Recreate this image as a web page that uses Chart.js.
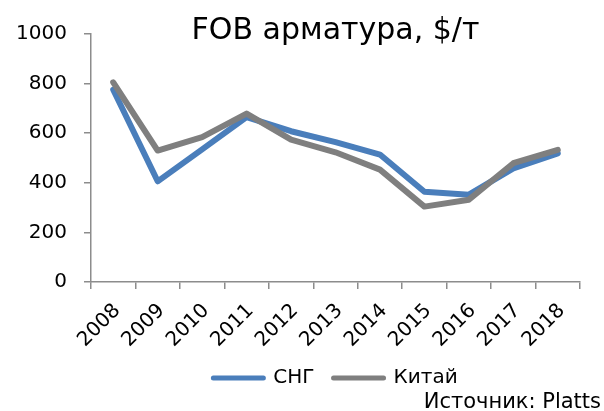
<!DOCTYPE html>
<html>
<head>
<meta charset="utf-8">
<script src="https://cdn.jsdelivr.net/npm/chart.js@4.4.1/dist/chart.umd.min.js"></script>
<style>
html,body{margin:0;padding:0;background:#fff;}
#wrap{position:relative;width:604px;height:411px;}
</style>
</head>
<body>
<div id="wrap"><canvas id="c" width="604" height="411"></canvas></div>
<script>
const years = ["2008","2009","2010","2011","2012","2013","2014","2015","2016","2017","2018"];
const cisValues = [775, 406, 535, 665, 608, 564, 514, 364, 352, 458, 519];
const chinaValues = [805, 530, 584, 679, 574, 523, 453, 304, 332, 479, 533];
const yTicks = [0, 200, 400, 600, 800, 1000];
const seriesNames = ["СНГ", "Китай"];
const seriesColors = ["#4a7ebb", "#7f7f7f"];
const titleText = "FOB арматура, $/т";
const sourceText = "Источник: Platts";

const FONT = "'DejaVu Sans', Verdana, sans-serif";
const axisColor = "#8c8c8c";

new Chart(document.getElementById('c'), {
  type: 'line',
  data: {
    labels: years,
    datasets: [
      { label: seriesNames[0], data: cisValues, borderColor: seriesColors[0], backgroundColor: seriesColors[0],
        borderWidth: 6, pointRadius: 0, tension: 0, borderJoinStyle: 'round', borderCapStyle: 'round', order: 2 },
      { label: seriesNames[1], data: chinaValues, borderColor: seriesColors[1], backgroundColor: seriesColors[1],
        borderWidth: 6, pointRadius: 0, tension: 0, borderJoinStyle: 'round', borderCapStyle: 'round', order: 1 }
    ]
  },
  options: {
    responsive: false,
    animation: false,
    events: [],
    layout: { padding: { left: 0, right: 3, top: 0, bottom: 0 } },
    plugins: {
      tooltip: { enabled: false },
      title: {
        display: true, text: titleText, fullSize: false,
        color: '#000', font: { family: FONT, size: 30, weight: 'normal', lineHeight: 1 },
        padding: { top: 16, bottom: -12 }
      },
      subtitle: {
        display: true, text: sourceText, position: 'bottom', align: 'end', fullSize: true,
        color: '#000', font: { family: FONT, size: 21, weight: 'normal', lineHeight: 1 },
        padding: { top: -5.5, bottom: -2.5 }
      },
      legend: {
        display: true, position: 'bottom', fullSize: false,
        labels: {
          font: { family: FONT, size: 20 },
          color: '#000',
          padding: 19,
          usePointStyle: true,
          pointStyleWidth: 50,
          generateLabels: (chart) => chart.data.datasets.map((ds, i) => ({
            text: ds.label, fillStyle: ds.borderColor, strokeStyle: ds.borderColor,
            lineWidth: 5, lineCap: 'round', pointStyle: 'line', datasetIndex: i, hidden: false, fontColor: '#000'
          }))
        }
      }
    },
    scales: {
      x: {
        type: 'category',
        offset: true,
        grid: { display: true, drawOnChartArea: false, drawTicks: true, tickLength: 7, color: axisColor, lineWidth: 1.5, offset: true },
        border: { display: true, color: axisColor, width: 1.5 },
        ticks: { color: '#000', font: { family: FONT, size: 20 }, minRotation: 45, maxRotation: 45, autoSkip: false, padding: 10, labelOffset: 4 },
        afterFit: (s) => { s.height = 67; s.paddingRight = 24; s.paddingLeft = 0; }
      },
      y: {
        min: 0, max: 1000,
        afterBuildTicks: (s) => { s.ticks = yTicks.map(v => ({ value: v })); },
        grid: { display: true, drawOnChartArea: false, drawTicks: true, tickLength: 7, color: axisColor, lineWidth: 1.5 },
        border: { display: true, color: axisColor, width: 1.5 },
        ticks: { color: '#000', font: { family: FONT, size: 20 }, padding: 17, callback: (v) => String(v) },
        afterFit: (s) => { s.width = 91; }
      }
    }
  }
});
</script>
</body>
</html>
